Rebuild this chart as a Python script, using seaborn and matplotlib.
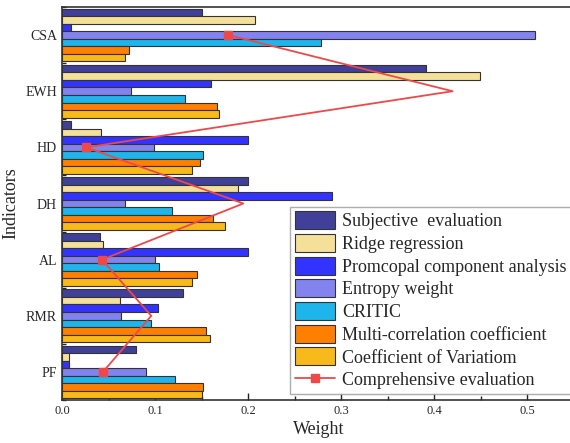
import matplotlib
matplotlib.use("Agg")
import matplotlib.pyplot as plt
from matplotlib.ticker import MultipleLocator, FixedLocator
import seaborn as sns
import pandas as pd

indicators = ["CSA", "EWH", "HD", "DH", "AL", "RMR", "PF"]
methods = ["Subjective  evaluation", "Ridge regression", "Promcopal component analysis",
           "Entropy weight", "CRITIC", "Multi-correlation coefficient", "Coefficient of Variatiom"]

subjective = [0.150, 0.391, 0.010, 0.200, 0.041, 0.130, 0.080]
ridge = [0.207, 0.449, 0.042, 0.189, 0.044, 0.062, 0.008]
pca = [0.010, 0.160, 0.200, 0.290, 0.200, 0.103, 0.007]
entropy = [0.509, 0.074, 0.099, 0.068, 0.100, 0.063, 0.090]
critic = [0.279, 0.132, 0.152, 0.118, 0.104, 0.096, 0.122]
multi_corr = [0.072, 0.167, 0.148, 0.162, 0.145, 0.155, 0.152]
coef_var = [0.068, 0.169, 0.140, 0.175, 0.140, 0.159, 0.150]
comprehensive = [0.179, 0.420, 0.026, 0.195, 0.043, 0.096, 0.044]

colors = ["#40409A", "#F5E09A", "#3333FF", "#8383F0", "#1DB5EB", "#FF8000", "#F8BA1A"]

series = [subjective, ridge, pca, entropy, critic, multi_corr, coef_var]
rows = []
for m, vals in zip(methods, series):
    for ind, v in zip(indicators, vals):
        rows.append({"Indicator": ind, "Method": m, "Weight": v})
df = pd.DataFrame(rows)

sns.set_style("ticks")
plt.rcParams["font.family"] = ["Liberation Serif", "DejaVu Serif"]

fig = plt.figure(figsize=(5.7, 4.43), dpi=100)
ax = fig.add_axes([62 / 570, 43 / 443, 513 / 570, 393 / 443])

sns.barplot(data=df, y="Indicator", x="Weight", hue="Method", order=indicators,
            hue_order=methods, palette=colors, orient="h", width=0.94,
            edgecolor="#333333", linewidth=0.8, saturation=1, ax=ax)

ax.plot(comprehensive, range(len(indicators)), color="#F04848", lw=1.3,
        marker="s", markersize=5.5, markevery=2, label="Comprehensive evaluation",
        zorder=5)

ax.set_xlim(0, 513 / 930)
ax.set_ylim(6.5, -0.5)
ax.xaxis.set_major_locator(FixedLocator([0.0, 0.1, 0.2, 0.3, 0.4, 0.5]))
ax.xaxis.set_minor_locator(MultipleLocator(0.05))
ax.yaxis.set_minor_locator(FixedLocator([i + 0.5 for i in range(-1, 7)]))
ax.set_xticklabels(["0.0", "0.1", "0.2", "0.3", "0.4", "0.5"])

ax.tick_params(axis="both", which="major", direction="in", length=5, width=1,
               color="#222222")
ax.tick_params(axis="both", which="minor", direction="in", length=3, width=1,
               color="#222222")
ax.tick_params(axis="x", labelsize=9)
ax.tick_params(axis="y", labelsize=10)
ax.set_xlabel("Weight", fontsize=13, labelpad=3)
ax.set_ylabel("Indicators", fontsize=13, labelpad=4)

for s in ax.spines.values():
    s.set_linewidth(1.2)
    s.set_color("#333333")

handles, labels = ax.get_legend_handles_labels()
leg = ax.legend(handles, labels, loc="lower right", bbox_to_anchor=(0.992, 0.016),
                fontsize=13, frameon=True, fancybox=False, edgecolor="#999999",
                handlelength=2.2, handleheight=1.15, labelspacing=0.2,
                handletextpad=0.4, borderpad=0.25, borderaxespad=0)
leg.get_frame().set_linewidth(1.0)

fig.savefig("out.png", dpi=100)
